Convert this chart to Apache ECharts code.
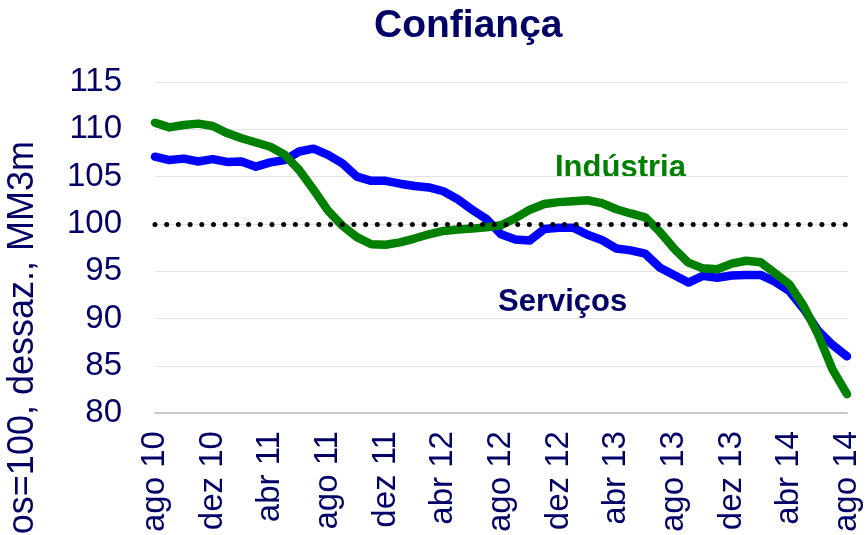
<!DOCTYPE html>
<html>
<head>
<meta charset="utf-8">
<script src="https://cdn.jsdelivr.net/npm/echarts@6/dist/echarts.min.js"></script>
<style>
  html, body { margin: 0; padding: 0; background: #fff; }
  #chart { width: 866px; height: 535px; }
</style>
</head>
<body>
<div id="chart"></div>
<script>
(function() {
    'use strict';
    // meses ago/10 .. ago/14
    var meses = [
        'ago 10', 'set 10', 'out 10', 'nov 10', 'dez 10', 'jan 11', 'fev 11', 'mar 11',
        'abr 11', 'mai 11', 'jun 11', 'jul 11', 'ago 11', 'set 11', 'out 11', 'nov 11',
        'dez 11', 'jan 12', 'fev 12', 'mar 12', 'abr 12', 'mai 12', 'jun 12', 'jul 12',
        'ago 12', 'set 12', 'out 12', 'nov 12', 'dez 12', 'jan 13', 'fev 13', 'mar 13',
        'abr 13', 'mai 13', 'jun 13', 'jul 13', 'ago 13', 'set 13', 'out 13', 'nov 13',
        'dez 13', 'jan 14', 'fev 14', 'mar 14', 'abr 14', 'mai 14', 'jun 14', 'jul 14',
        'ago 14'
    ];
    var industria = [
        110.7, 110.2, 110.45, 110.6, 110.35, 109.6, 109.05, 108.6,
        108.15, 107.3, 105.7, 103.6, 101.4, 99.8, 98.6, 97.85,
        97.8, 98.05, 98.45, 98.9, 99.25, 99.4, 99.5, 99.65,
        99.85, 100.6, 101.5, 102.1, 102.3, 102.4, 102.5, 102.2,
        101.55, 101.1, 100.7, 99.2, 97.4, 95.9, 95.3, 95.2,
        95.8, 96.1, 95.95, 94.8, 93.6, 91.3, 88.3, 84.6,
        82.0
    ];
    var servicos = [
        107.1, 106.75, 106.9, 106.6, 106.85, 106.55, 106.6, 106.05,
        106.5, 106.75, 107.65, 107.95, 107.3, 106.4, 105.0, 104.55,
        104.55, 104.25, 104.0, 103.85, 103.45, 102.6, 101.5, 100.5,
        98.9, 98.35, 98.25, 99.45, 99.6, 99.6, 98.85, 98.3,
        97.4, 97.2, 96.85, 95.4, 94.6, 93.8, 94.5, 94.3,
        94.55, 94.6, 94.6, 93.9, 92.9, 91.0, 88.7, 87.2,
        86.0
    ];
    var yMin = 80, yMax = 115, yStep = 5;
    var referencia = 100;

    var azul = '#000066';
    var fonte = '"Liberation Sans", Arial, sans-serif';

    var chart = echarts.init(document.getElementById('chart'));
    var option = {
        animation: false,
        backgroundColor: '#fff',
        title: {
            text: 'Confiança',
            left: 369,
            top: 2,
            textStyle: { color: azul, fontSize: 39, fontWeight: 'bold', fontFamily: fonte }
        },
        grid: { left: 155, right: 19, top: 82, bottom: 120 },
        xAxis: {
            type: 'category',
            data: meses,
            boundaryGap: false,
            axisLine: { lineStyle: { color: '#c8c8c8', width: 2 } },
            axisTick: { show: false },
            axisLabel: {
                interval: 3,
                rotate: 90,
                margin: 18,
                color: azul,
                fontSize: 33,
                fontFamily: fonte
            },
            splitLine: { show: false }
        },
        yAxis: {
            type: 'value',
            min: yMin,
            max: yMax,
            interval: yStep,
            axisLine: { show: false },
            axisTick: { show: false },
            axisLabel: { margin: 33, color: azul, fontSize: 33, fontFamily: fonte },
            splitLine: { lineStyle: { color: '#e3e3e3', width: 1 } }
        },
        graphic: [
            {
                type: 'text',
                x: 23,
                y: 141,
                rotation: Math.PI / 2,
                style: {
                    text: 'Média 10 anos=100, dessaz., MM3m',
                    x: 0, y: 0,
                    textAlign: 'right',
                    textVerticalAlign: 'middle',
                    fill: azul,
                    font: '36px ' + fonte
                }
            },
            {
                type: 'text',
                left: 555,
                top: 153,
                style: { text: 'Indústria', fill: '#008000', font: 'bold 31px ' + fonte }
            },
            {
                type: 'text',
                left: 498,
                top: 287,
                style: { text: 'Serviços', fill: azul, font: 'bold 31px ' + fonte }
            }
        ],
        series: [
            {
                name: 'Serviços',
                type: 'line',
                data: servicos,
                symbol: 'none',
                lineStyle: { color: '#0000ff', width: 8.5, cap: 'round', join: 'round' }
            },
            {
                name: 'Indústria',
                type: 'line',
                data: industria,
                symbol: 'none',
                lineStyle: { color: '#008000', width: 8.5, cap: 'round', join: 'round' },
                markLine: {
                    silent: true,
                    symbol: 'none',
                    label: { show: false },
                    lineStyle: { color: '#000', width: 5, type: [0, 11.7], cap: 'round' },
                    data: [{ yAxis: referencia }]
                },
                z: 3
            }
        ]
    };
    chart.setOption(option);
})();
</script>
</body>
</html>
